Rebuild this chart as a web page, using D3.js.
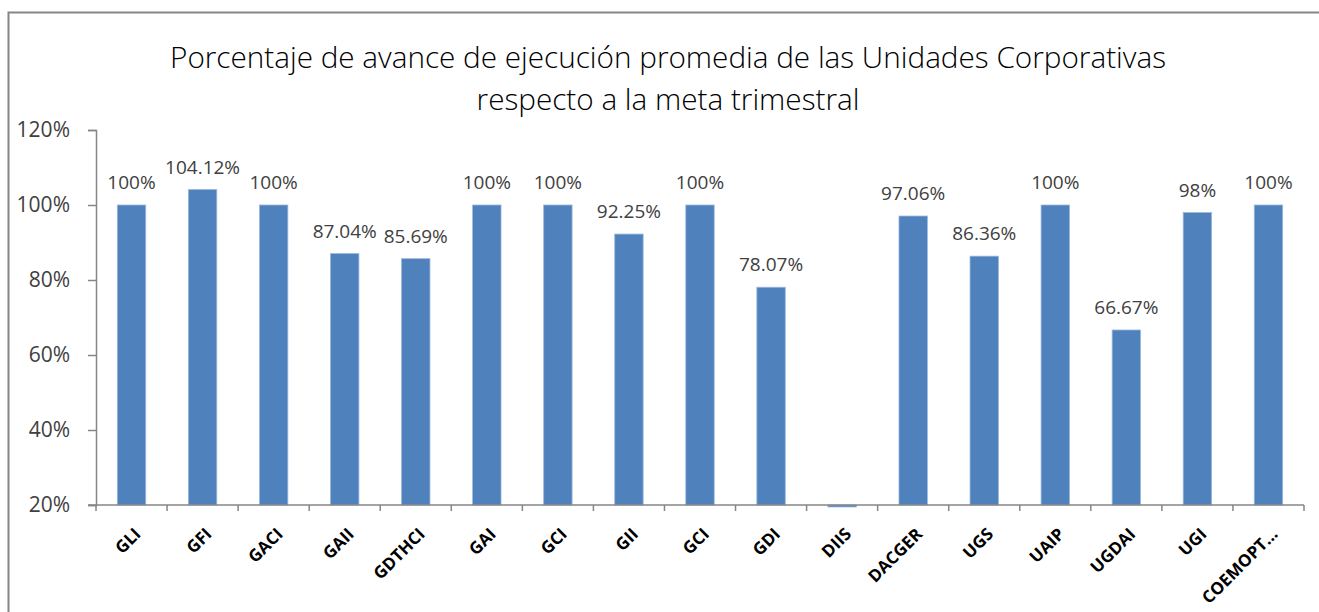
<!DOCTYPE html>
<html>
<head>
<meta charset="utf-8">
<script src="https://cdn.jsdelivr.net/npm/d3@7"></script>
<style>
  body { margin: 0; background: #fff; }
  svg { display: block; font-family: "Open Sans", "Noto Sans", sans-serif; }
</style>
</head>
<body>
<div id="chart"></div>
<script>
const categories = ["GLI", "GFI", "GACI", "GAII", "GDTHCI", "GAI", "GCI", "GII", "GCI", "GDI",
  "DIIS", "DACGER", "UGS", "UAIP", "UGDAI", "UGI", "COEMOPT\u2026"];
const values = [1.00, 1.0412, 1.00, 0.8704, 0.8569, 1.00, 1.00, 0.9225, 1.00, 0.7807,
  0, 0.9706, 0.8636, 1.00, 0.6667, 0.98, 1.00];
const labels = ["100%", "104.12%", "100%", "87.04%", "85.69%", "100%", "100%", "92.25%", "100%", "78.07%",
  "", "97.06%", "86.36%", "100%", "66.67%", "98%", "100%"];
const yTicks = [0.2, 0.4, 0.6, 0.8, 1.0, 1.2];

let width = 1319, height = 612;
let margin = {left: 96, right: 15, top: 130, bottom: 107};

let svg = d3.select("#chart").append("svg")
  .attr("width", width)
  .attr("height", height);

// outer chart border
svg.append("rect")
  .attr("x", 8.5).attr("y", 12.5)
  .attr("width", width).attr("height", height)
  .style("fill", "none")
  .style("stroke", "#868686")
  .style("stroke-width", 2);

// title
let title = svg.append("text")
  .attr("text-anchor", "middle")
  .style("font-size", "29.7px")
  .style("font-weight", "300")
  .style("fill", "#000");
title.append("tspan").attr("x", 668).attr("y", 68)
  .text("Porcentaje de avance de ejecución promedia de las Unidades Corporativas");
title.append("tspan").attr("x", 668).attr("y", 110)
  .text("respecto a la meta trimestral");

let x = d3.scaleBand()
  .domain(d3.range(categories.length))
  .range([margin.left, width - margin.right])
  .paddingInner(0.6)
  .paddingOuter(0.3);

let y = d3.scaleLinear()
  .domain([0.2, 1.2])
  .range([height - margin.bottom, margin.top]);

// y axis
let yAxis = svg.append("g")
  .attr("transform", `translate(${margin.left},0)`)
  .call(d3.axisLeft(y).tickValues(yTicks).tickFormat(d3.format(".0%")).tickSize(8).tickPadding(18));
yAxis.select(".domain").style("stroke", "#868686").style("stroke-width", 1.5);
yAxis.selectAll(".tick line").style("stroke", "#868686").style("stroke-width", 1.5);
yAxis.selectAll(".tick text")
  .style("font-size", "21px")
  .style("fill", "#404040")
  .style("font-family", "'Open Sans', sans-serif");

// bars
let y0 = y(0.2);
svg.append("g").selectAll("rect")
  .data(values)
  .join("rect")
  .attr("x", (d, i) => x(i))
  .attr("width", x.bandwidth())
  .attr("y", d => d < 0.2 ? y0 : y(d))
  .attr("height", d => d < 0.2 ? 2 : y0 - y(d))
  .style("fill", "#4F81BD")
  .style("stroke", "#9BB8DA")
  .style("stroke-width", 0.8);

// data labels
svg.append("g").selectAll("text")
  .data(values)
  .join("text")
  .attr("x", (d, i) => x(i) + x.bandwidth() / 2)
  .attr("y", d => y(d) - 16)
  .attr("text-anchor", "middle")
  .style("font-size", "19px")
  .style("fill", "#404040")
  .text((d, i) => labels[i]);

// x axis
let step = x.step();
let xAxis = svg.append("g").attr("transform", `translate(0,${y0})`);
xAxis.append("line")
  .attr("x1", margin.left - 8).attr("x2", width - margin.right)
  .style("stroke", "#868686").style("stroke-width", 1.5);
xAxis.selectAll("line.tick")
  .data(d3.range(categories.length + 1))
  .join("line")
  .attr("class", "tick")
  .attr("x1", i => x(0) - x.step() * x.paddingOuter() + i * step)
  .attr("x2", i => x(0) - x.step() * x.paddingOuter() + i * step)
  .attr("y1", 0).attr("y2", 6)
  .style("stroke", "#868686").style("stroke-width", 1.5);

xAxis.selectAll("text")
  .data(categories)
  .join("text")
  .attr("transform", (d, i) => `translate(${x(i) + x.bandwidth() / 2 + 6},${26}) rotate(-45)`)
  .attr("text-anchor", "end")
  .attr("dy", "0.35em")
  .style("font-size", "17px")
  .style("font-weight", "bold")
  .style("fill", "#000")
  .text(d => d);
</script>
</body>
</html>
